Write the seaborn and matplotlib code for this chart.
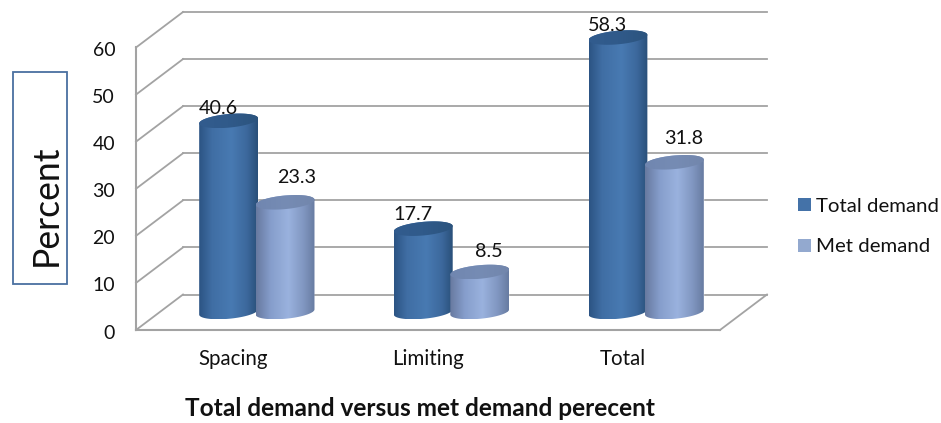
import numpy as np
import pandas as pd
import matplotlib
matplotlib.use("Agg")
import matplotlib.pyplot as plt
import seaborn as sns
from matplotlib.patches import Rectangle, Patch
from matplotlib.path import Path
from matplotlib.transforms import IdentityTransform, ScaledTranslation
from matplotlib.lines import Line2D

# Chart values
categories = ["Spacing", "Limiting", "Total"]
total_demand = [40.6, 17.7, 58.3]
met_demand = [23.3, 8.5, 31.8]
series_names = ["Total demand", "Met demand"]
y_ticks = [0, 10, 20, 30, 40, 50, 60]

# Hand placement of the value labels, in pixels relative to each cylinder's top
label_nudges = {
    (0, 0): (-10, 12), (1, 0): (-10, 14), (2, 0): (-11, 12),
    (0, 1): (12, 25), (1, 1): (9, 20), (2, 1): (9, 24),
}

W, H, DPI = 941, 423, 100
GRID = "#a3a3a3"
DEPTH_X, DEPTH_Y = 47, 35.5            # floor depth of the fake 3D box, px
SIDE_X, SIDE_Y = 23.5, 18              # cylinders stand half way into the box

sns.set_theme(style="white")
plt.rcParams["font.family"] = ["Lato", "DejaVu Sans"]

df = pd.DataFrame({
    "category": categories * 2,
    "value": total_demand + met_demand,
    "series": [series_names[0]] * 3 + [series_names[1]] * 3,
})

fig = plt.figure(figsize=(W / DPI, H / DPI), dpi=DPI, facecolor="white")
ax = fig.add_axes([136 / W, 1 - 330 / H, 584 / W, 282.5 / H])
ax.patch.set_visible(False)

flat_colors = ["#4472a8", "#93a9cf"]
sns.barplot(data=df, x="category", y="value", hue="series", order=categories,
            hue_order=series_names, palette=flat_colors, width=0.58, gap=0,
            saturation=1, ax=ax, legend=False, zorder=3)

ax.set_xlim(-0.5, 2.5)
ax.set_ylim(0, 60)
ax.set_yticks(y_ticks)
ax.set_xlabel("")
ax.set_ylabel("")
ax.tick_params(axis="y", length=0, pad=15, labelsize=14, labelcolor="#111111")
ax.tick_params(axis="x", length=0, pad=14, labelsize=14.8, labelcolor="#111111")
# Nudge the y tick labels down a touch so the digits sit on their tick level
nudge = ScaledTranslation(0, -1.5 / DPI, fig.dpi_scale_trans)
for label in ax.get_yticklabels():
    label.set_transform(label.get_transform() + nudge)
for side in ("top", "right"):
    ax.spines[side].set_visible(False)
for side in ("left", "bottom"):
    ax.spines[side].set_color(GRID)
    ax.spines[side].set_linewidth(1.5)

# Box: back wall lines, side wall diagonals, floor edge
to_px = IdentityTransform()
line_kw = dict(color=GRID, lw=1.3, zorder=1, solid_capstyle="projecting", clip_on=False)
for tick in y_ticks:
    x0, y0 = ax.transData.transform((-0.5, tick))
    x1, _ = ax.transData.transform((2.5, tick))
    ax.add_line(Line2D([x0 + DEPTH_X, x1 + DEPTH_X], [y0 + DEPTH_Y] * 2, transform=to_px, **line_kw))
    ax.add_line(Line2D([x0, x0 + DEPTH_X], [y0, y0 + DEPTH_Y], transform=to_px, **line_kw))
x1, y1 = ax.transData.transform((2.5, 0))
ax.add_line(Line2D([x1, x1 + DEPTH_X], [y1, y1 + DEPTH_Y], transform=to_px, **line_kw))


def gradient(stops, n=64):
    pos = np.linspace(0, 1, n)
    at = [s[0] for s in stops]
    rgb = [np.interp(pos, at, [s[1][i] / 255 for s in stops]) for i in range(3)]
    return np.dstack(rgb)


body_stops = [
    [(0, (44, 84, 132)), (0.22, (64, 110, 164)), (0.55, (72, 122, 178)), (0.82, (60, 104, 156)), (1, (42, 80, 122))],
    [(0, (104, 122, 160)), (0.25, (134, 158, 204)), (0.55, (154, 178, 222)), (0.82, (128, 150, 192)), (1, (104, 124, 162))],
]
cap_stops = [
    [(0, (50, 92, 142)), (0.5, (48, 90, 138)), (1, (44, 84, 126))],
    [(0, (112, 134, 176)), (0.5, (118, 140, 180)), (1, (114, 134, 172))],
]


def cylinder_paths(cx, y_base, y_top, a, b=6.8, tilt=2.6):
    """Body and cap outlines of a slightly sheared cylinder, in pixels."""
    t_low = np.linspace(np.pi, 2 * np.pi, 50)
    t_up = np.linspace(0, np.pi, 50)
    ell = lambda t, y: np.c_[cx + a * np.cos(t), y + b * np.sin(t) + tilt * np.cos(t)]
    body = np.vstack([ell(t_low, y_base), ell(t_up, y_top)])
    full = np.linspace(0, 2 * np.pi, 100)
    return Path(np.vstack([body, body[0]]), closed=True), Path(ell(full, y_top), closed=True)


offset = ScaledTranslation(SIDE_X / DPI, SIDE_Y / DPI, fig.dpi_scale_trans)
for s_idx, container in enumerate(ax.containers):
    for c_idx, bar in enumerate(container):
        bar.set_transform(ax.transData + offset)
        bar.set_clip_on(False)
        x, h, w = bar.get_x(), bar.get_height(), bar.get_width()
        (xl, yb), (xr, yt) = ax.transData.transform([(x, 0), (x + w, h)])
        xl, xr, yb, yt = xl + SIDE_X, xr + SIDE_X, yb + SIDE_Y, yt + SIDE_Y
        cx, a = (xl + xr) / 2, (xr - xl) / 2 + 1.2
        body, cap = cylinder_paths(cx, yb, yt, a)
        z = 4 + s_idx
        for path, stops, zz in ((body, body_stops[s_idx], z), (cap, cap_stops[s_idx], z + 0.1)):
            ys = path.vertices[:, 1]
            im = ax.imshow(gradient(stops), extent=(cx - a, cx + a, ys.min(), ys.max()),
                           aspect="auto", transform=to_px, zorder=zz,
                           interpolation="bilinear", origin="lower")
            im.set_clip_box(fig.bbox)
            im.set_clip_path(path, to_px)
        dx, dy = label_nudges[(c_idx, s_idx)]
        ax.annotate(f"{h:.1f}", xy=(cx, yt), xycoords=to_px, xytext=(cx + dx, yt + dy),
                    textcoords=to_px, ha="center", va="center", fontsize=14.2,
                    color="#111111", zorder=8, annotation_clip=False)

ax.set_xlim(-0.5, 2.5)
ax.set_ylim(0, 60)

handles = [Patch(facecolor=c, edgecolor="none") for c in flat_colors]
fig.legend(handles, series_names, loc="center left",
           bbox_to_anchor=(798 / W, 1 - 226.5 / H), frameon=False, fontsize=14.7,
           handlelength=0.64, handleheight=0.64, handletextpad=0.24, labelspacing=1.17,
           borderpad=0, borderaxespad=0, labelcolor="#111111")

fig.add_artist(Rectangle((12.5 / W, 1 - 284 / H), 54.5 / W, 212 / H, transform=fig.transFigure,
                         facecolor="white", edgecolor="#4a70a0", lw=1.3))
fig.text(46 / W, 1 - 205 / H, "Percent", rotation=90, ha="center", va="center",
         fontsize=25.6, color="#111111")
fig.text(420 / W, 1 - 408 / H, "Total demand versus met demand perecent", ha="center",
         va="center", fontsize=17.6, fontweight="bold", color="#111111")

fig.savefig("out.png", dpi=DPI, facecolor="white")
